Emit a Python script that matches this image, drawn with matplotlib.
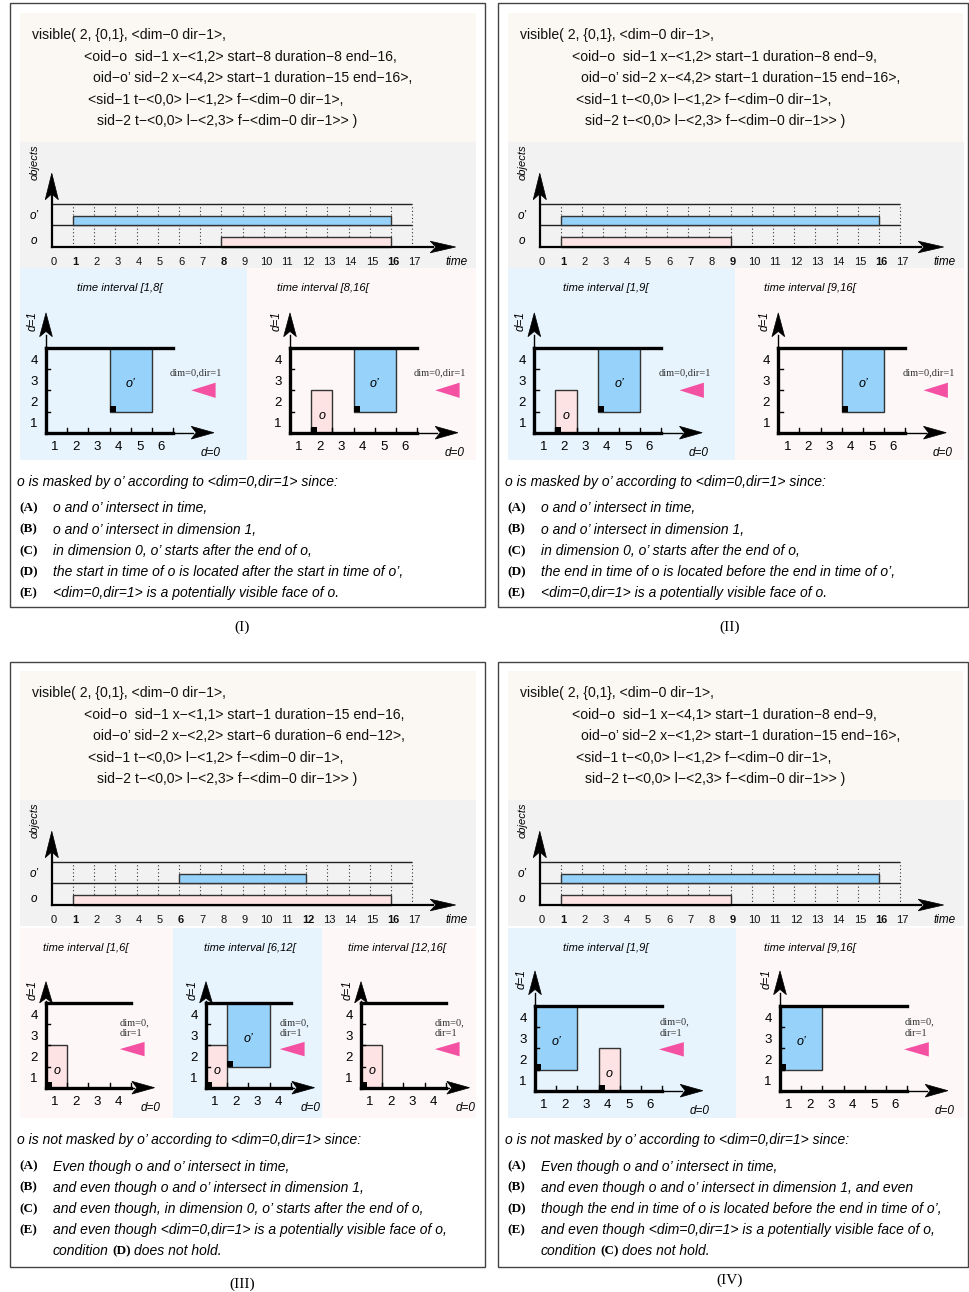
import matplotlib
matplotlib.use("Agg")
import matplotlib.pyplot as plt
from matplotlib.patches import Rectangle, Polygon

# ---------------- data ----------------
panel_names = ["(I)", "(II)", "(III)", "(IV)"]
o_x = [(1, 2), (1, 2), (1, 1), (4, 1)]          # x-<..> as written
op_x = [(4, 2), (4, 2), (2, 2), (1, 2)]
o_pos = [(2, 1), (2, 1), (1, 1), (4, 1)]        # drawn lower-left corner of o
op_pos = [(4, 2), (4, 2), (2, 2), (1, 2)]       # drawn lower-left corner of o'
o_size = (1, 2)
op_size = (2, 3)
o_start = [8, 1, 1, 1]
o_end = [16, 9, 16, 9]
op_start = [1, 1, 6, 1]
op_end = [16, 16, 12, 16]
intervals = [[(1, 8), (8, 16)], [(1, 9), (9, 16)],
             [(1, 6), (6, 12), (12, 16)], [(1, 9), (9, 16)]]
time_ticks = list(range(0, 18))
d0_max = [7, 7, 5, 7]
d1_max = 5

headings = ["o is masked by o\u2019 according to <dim=0,dir=1> since:",
            "o is masked by o\u2019 according to <dim=0,dir=1> since:",
            "o is not masked by o\u2019 according to <dim=0,dir=1> since:",
            "o is not masked by o\u2019 according to <dim=0,dir=1> since:"]
items = [
    [("(A)", "o and o\u2019 intersect in time,"),
     ("(B)", "o and o\u2019 intersect in dimension 1,"),
     ("(C)", "in dimension 0, o\u2019 starts after the end of o,"),
     ("(D)", "the start in time of o is located after the start in time of o\u2019,"),
     ("(E)", "<dim=0,dir=1> is a potentially visible face of o.")],
    [("(A)", "o and o\u2019 intersect in time,"),
     ("(B)", "o and o\u2019 intersect in dimension 1,"),
     ("(C)", "in dimension 0, o\u2019 starts after the end of o,"),
     ("(D)", "the end in time of o is located before the end in time of o\u2019,"),
     ("(E)", "<dim=0,dir=1> is a potentially visible face of o.")],
    [("(A)", "Even though o and o\u2019 intersect in time,"),
     ("(B)", "and even though o and o\u2019 intersect in dimension 1,"),
     ("(C)", "and even though, in dimension 0, o\u2019 starts after the end of o,"),
     ("(E)", "and even though <dim=0,dir=1> is a potentially visible face of o,")],
    [("(A)", "Even though o and o\u2019 intersect in time,"),
     ("(B)", "and even though o and o\u2019 intersect in dimension 1, and even"),
     ("(D)", "though the end in time of o is located before the end in time of o\u2019,"),
     ("(E)", "and even though <dim=0,dir=1> is a potentially visible face of o,")],
]
final_cond = [None, None, "(D)", "(C)"]

# ---------------- style ----------------
W, H = 970, 1292
SANS = "Liberation Sans"
SERIF = "Liberation Serif"
C_BEIGE = "#fbf8f3"
C_GRAY = "#f2f2f2"
C_LBLUE = "#e7f4fd"
C_LPINK = "#fdf8f7"
C_BLUE = "#96d2fa"
C_PINK = "#fde3e3"
C_TRI = "#f451a3"
C_EDGE = "#333333"
DASH = "\u2212"

sub_bg = [[C_LBLUE, C_LPINK], [C_LBLUE, C_LPINK],
          [C_LPINK, C_LBLUE, C_LPINK], [C_LBLUE, C_LPINK]]
sub_boxes = [
    [((20, 268, 247, 460), (46, 432.7)), ((247, 268, 476, 460), (290, 432.7))],
    [((508, 268, 735, 460), (534.3, 432.7)), ((735, 268, 964, 460), (778.3, 432.7))],
    [((20, 928, 173, 1118), (46, 1087.7)), ((173, 928, 322, 1118), (206, 1087.7)),
     ((322, 928, 476, 1118), (361, 1087.7))],
    [((508, 928, 736, 1118), (535, 1090.7)), ((736, 928, 964, 1118), (780, 1090.7))],
]
title_x = [[4.49, 2.57], [4.37, 2.49], [2.89, 3.05, 2.68], [4.33, 2.39]]
title_y = [7.83, 7.83, 7.59, 7.75]
offsets = [(0, 0), (488, 0), (0, 658), (488, 658)]
frames = [(10, 3, 485, 607), (498, 3, 968, 607), (10, 662, 485, 1267), (498, 662, 968, 1267)]
captions_xy = [(242, 627), (730, 627), (242, 1284), (730, 1280)]

fig = plt.figure(figsize=(W / 100, H / 100), dpi=100)
bg = fig.add_axes([0, 0, 1, 1], zorder=0)
bg.set_xlim(0, W)
bg.set_ylim(H, 0)
bg.axis("off")


def add_px_axes(x0, y0, x1, y1, fc, zorder=1):
    ax = fig.add_axes([x0 / W, 1 - y1 / H, (x1 - x0) / W, (y1 - y0) / H], zorder=zorder)
    ax.set_facecolor(fc)
    for s in ax.spines.values():
        s.set_visible(False)
    ax.set_xticks([])
    ax.set_yticks([])
    return ax


def head(ax, tip, back, hw, horiz=True, color="k"):
    if horiz:
        xt, y = tip
        n = back + 0.22 * (xt - back)
        pts = [(xt, y), (back, y + hw), (n, y), (back, y - hw)]
    else:
        x, yt = tip
        n = back + 0.22 * (yt - back)
        pts = [(x, yt), (x + hw, back), (x, n), (x - hw, back)]
    ax.add_patch(Polygon(pts, closed=True, fc=color, ec=color, lw=0.5, zorder=6))


renderer = fig.canvas.get_renderer()

for i in range(4):
    dx, dy = offsets[i]
    # frame
    fx0, fy0, fx1, fy1 = frames[i]
    bg.add_patch(Rectangle((fx0, fy0), fx1 - fx0, fy1 - fy0, fill=False, ec="#444444", lw=1.0))
    # code box
    bg.add_patch(Rectangle((20 + dx, 13 + dy), 456 if i % 2 == 0 else 455, 129, fc=C_BEIGE, ec="none"))
    code = [
        f"visible( 2, {{0,1}}, <dim{DASH}0 dir{DASH}1>,",
        f"<oid{DASH}o  sid{DASH}1 x{DASH}<{o_x[i][0]},{o_x[i][1]}> start{DASH}{o_start[i]} "
        f"duration{DASH}{o_end[i] - o_start[i]} end{DASH}{o_end[i]},",
        f"oid{DASH}o\u2019 sid{DASH}2 x{DASH}<{op_x[i][0]},{op_x[i][1]}> start{DASH}{op_start[i]} "
        f"duration{DASH}{op_end[i] - op_start[i]} end{DASH}{op_end[i]}>,",
        f"<sid{DASH}1 t{DASH}<0,0> l{DASH}<{o_size[0]},{o_size[1]}> f{DASH}<dim{DASH}0 dir{DASH}1>,",
        f"sid{DASH}2 t{DASH}<0,0> l{DASH}<{op_size[0]},{op_size[1]}> f{DASH}<dim{DASH}0 dir{DASH}1>> )",
    ]
    code_x = [32.5, 84, 93.5, 88.5, 97.5]
    for k, line in enumerate(code):
        bg.text(code_x[k] + dx, 35.5 + 21.5 * k + dy, line, fontsize=10.1, family=SANS,
                ha="left", va="center", color="#111111")

    # ---------- timeline ----------
    tl = add_px_axes(20 + dx, 142 + dy, 476 + dx, 268 + dy, C_GRAY)
    tl.set_xlim(-1.5, 20.01)
    tl.set_ylim(-0.977, 4.884)
    tl.vlines(time_ticks[1:], 0, 2, colors="#333333", linestyles=(0, (1, 2.2)), lw=0.8, zorder=1)
    tl.hlines([1, 2], 0, 17, colors="#222222", lw=1.0, zorder=2)
    tl.barh([1], [op_end[i] - op_start[i]], left=[op_start[i]], height=0.45, align="edge",
            color=C_BLUE, edgecolor=C_EDGE, lw=1.0, zorder=3)
    tl.barh([0], [o_end[i] - o_start[i]], left=[o_start[i]], height=0.45, align="edge",
            color=C_PINK, edgecolor=C_EDGE, lw=1.0, zorder=3)
    tl.plot([0, 18.0], [0, 0], color="k", lw=1.6, zorder=5)
    head(tl, (19.05, 0), 17.85, 0.27, horiz=True)
    tl.plot([0, 0], [0, 2.4], color="k", lw=1.6, zorder=5)
    head(tl, (0, 3.43), 2.2, 0.31, horiz=False)
    bold_t = {o_start[i], o_end[i], op_start[i], op_end[i]}
    for t in time_ticks:
        tl.text(t + 0.1, -0.70, str(t), fontsize=8, family=SANS, ha="center", va="center",
                fontweight="bold" if t in bold_t else "normal", color="#111111")
    tl.text(19.07, -0.70, "time", fontsize=8.5, family=SANS, style="italic", ha="center", va="center")
    tl.text(-0.79, 3.95, "objects", fontsize=8, family=SANS, style="italic", rotation=90,
            ha="center", va="center")
    tl.text(-0.85, 1.42, "o\u2019", fontsize=8.5, family=SANS, style="italic", ha="center", va="center")
    tl.text(-0.85, 0.3, "o", fontsize=8.5, family=SANS, style="italic", ha="center", va="center")

    # ---------- space sub-panels ----------
    xm = d0_max[i]
    narrow = (i == 2)
    for k, (a, b) in enumerate(intervals[i]):
        (x0, y0, x1, y1), (ox, oy) = sub_boxes[i][k]
        u = 21.2
        ax = add_px_axes(x0, y0, x1, y1, sub_bg[i][k])
        ax.set_xlim(1 - (ox - x0) / u, 1 + (x1 - ox) / u)
        ax.set_ylim(1 - (y1 - oy) / u, 1 + (oy - y0) / u)
        # objects
        objs = []
        if op_start[i] <= a and op_end[i] >= b:
            objs.append((op_pos[i], op_size, C_BLUE, "o\u2019"))
        if o_start[i] <= a and o_end[i] >= b:
            objs.append((o_pos[i], o_size, C_PINK, "o"))
        for (px, py), (lx, ly), col, lab in objs:
            ax.bar([px], [ly], width=[lx], bottom=[py], align="edge", color=col,
                   edgecolor=C_EDGE, lw=1.0, zorder=3)
            ax.bar([px], [0.27], width=[0.28], bottom=[py], align="edge", color="k",
                   lw=0, zorder=4)
            ax.text(px + lx / 2, py + ly / 2 - 0.2, lab, fontsize=9, family=SANS,
                    style="italic", ha="center", va="center", zorder=5)
        # axes
        ax.plot([1, xm], [1, 1], color="k", lw=2.4, solid_capstyle="projecting", zorder=5)
        ax.plot([1, 1], [1, d1_max], color="k", lw=2.4, solid_capstyle="projecting", zorder=5)
        ax.plot([1, xm], [d1_max, d1_max], color="k", lw=2.4, solid_capstyle="projecting", zorder=5)
        if narrow:
            xh = (5.05, 6.12)
            yh = (5.0, 6.0)
        else:
            xh = (7.85, 8.92)
            yh = (5.53, 6.65)
        ax.plot([xm, xh[0] + 0.1], [1, 1], color="k", lw=1.0, zorder=5)
        ax.plot([1, 1], [d1_max, yh[0] + 0.1], color="k", lw=1.0, zorder=5)
        head(ax, (xh[1], 1), xh[0], 0.3, horiz=True)
        head(ax, (1, yh[1]), yh[0], 0.3, horiz=False)
        for tx in range(2, xm + 1):
            ax.plot([tx, tx], [1, 1.2], color="k", lw=1.0, zorder=5)
        for ty in range(2, d1_max):
            ax.plot([1, 1.2], [ty, ty], color="k", lw=1.0, zorder=5)
        for tx in range(1, xm):
            ax.text(tx + 0.42, 0.33, str(tx), fontsize=9.5, family=SANS, ha="center", va="center")
        for ty in range(1, d1_max):
            ax.text(0.43, ty + 0.4, str(ty), fontsize=9.5, family=SANS, ha="center", va="center")
        ax.text(xh[1] - 0.18, 0.06, "d=0", fontsize=8.5, family=SANS, style="italic",
                ha="center", va="center")
        ax.text(0.37, yh[1] - 0.4, "d=1", fontsize=8.5, family=SANS, style="italic",
                rotation=90, ha="center", va="center")
        ax.text(title_x[i][k], title_y[i], f"time interval [{a},{b}[", fontsize=8,
                family=SANS, style="italic", ha="center", va="center")
        # face indicator
        if i in (0, 1):
            ax.text(8.08, 3.81, "dim=0,dir=1", fontsize=7.5, family=SERIF, color="#333333",
                    ha="center", va="center")
            tri = [(7.85, 3.0), (9.0, 3.36), (9.0, 2.64)]
        elif i == 2:
            ax.text(4.46, 4.08, "dim=0,", fontsize=7.5, family=SERIF, color="#333333",
                    ha="left", va="center")
            ax.text(4.46, 3.57, "dir=1", fontsize=7.5, family=SERIF, color="#333333",
                    ha="left", va="center")
            tri = [(4.48, 2.82), (5.65, 3.16), (5.65, 2.48)]
        else:
            ax.text(6.9, 4.23, "dim=0,", fontsize=7.5, family=SERIF, color="#333333",
                    ha="left", va="center")
            ax.text(6.9, 3.71, "dir=1", fontsize=7.5, family=SERIF, color="#333333",
                    ha="left", va="center")
            tri = [(6.85, 2.95), (8.02, 3.29), (8.02, 2.61)]
        ax.add_patch(Polygon(tri, closed=True, fc=C_TRI, ec="none", zorder=5))

    # ---------- explanation text ----------
    bg.text(17 + dx, 482 + dy, headings[i], fontsize=10, family=SANS, style="italic",
            ha="left", va="center")
    for k, (lab, txt) in enumerate(items[i]):
        yy = 508.5 + 21.2 * k + dy
        bg.text(19 + dx, yy, lab, fontsize=9.5, family=SERIF, fontweight="bold",
                ha="left", va="center")
        bg.text(53 + dx, yy, txt, fontsize=10, family=SANS, style="italic",
                ha="left", va="center")
    if final_cond[i] is not None:
        yy = 508.5 + 21.2 * 4 + dy
        xx = 53 + dx
        t1 = bg.text(xx, yy, "condition", fontsize=10, family=SANS, style="italic",
                     ha="left", va="center")
        xx += t1.get_window_extent(renderer).width + 3.5
        t2 = bg.text(xx, yy, final_cond[i], fontsize=9.5, family=SERIF, fontweight="bold",
                     ha="left", va="center")
        xx += t2.get_window_extent(renderer).width + 3.5
        bg.text(xx, yy, "does not hold.", fontsize=10, family=SANS, style="italic",
                ha="left", va="center")
    cx, cy = captions_xy[i]
    bg.text(cx, cy, panel_names[i], fontsize=11, family=SERIF, ha="center", va="center")

fig.savefig("out.png", dpi=100, facecolor="white")
